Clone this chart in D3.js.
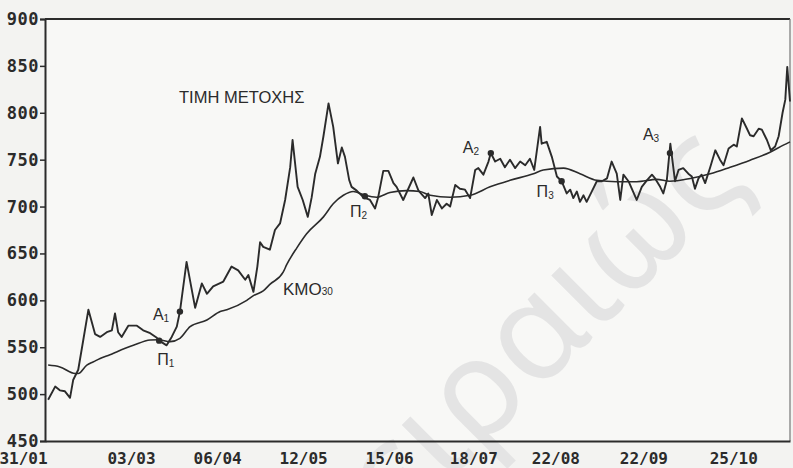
<!DOCTYPE html>
<html><head><meta charset="utf-8">
<script src="https://cdn.jsdelivr.net/npm/d3@7"></script>
<style>body{margin:0;background:#f4f4f2;} svg{display:block}</style>
</head><body>
<svg id="c" width="793" height="468"></svg>
<script>
// ---- data (trading-day index, price) ----
const priceDays = [0.8,2.6,3.8,5.1,6.4,7.2,8.5,9.8,11.1,12.8,14.1,15.8,17.1,17.9,18.7,19.6,21.3,23.5,25.1,26.9,28.6,29.2,31.1,32.4,33.7,34.5,36.2,38.4,40.1,41.4,43,45.6,47.7,49.4,51.2,52,53.3,54.3,55,55.8,57.5,58.8,60.1,61.4,62.7,63.3,64.6,65.9,67.2,68.2,69.1,70.3,71.2,72.5,73.7,74.9,75.9,76.7,77.8,78.4,79.7,81.4,83.1,84.4,85.2,86.5,87.8,89.1,89.9,91.6,94.2,95.5,97.2,98,98.9,100.2,101.5,102.7,103.6,104.9,106.1,107.4,108.7,110,110.8,112.1,113.4,114,115.1,116.4,117.6,118.9,120.2,121.5,122.8,124,125.1,126.6,127,128.3,129.6,130.9,132.1,133.4,134.3,135.1,136,136.8,137.7,138.5,139.8,141.1,142.4,143.7,144.9,146.2,147.1,147.9,149.2,151.3,152.6,153.9,155.2,156,157.3,158.1,159,159.9,161.1,162,163.2,164.5,165.4,166.2,167.1,167.9,168.8,170.1,171.4,172.6,173.5,174.8,176.1,176.9,178.2,179.5,180.3,181.2,182.5,183.3,184.6,185.6,186.7,187.6,188.6,189.3,189.8,190.5];
const priceValues = [494,508,504,503,496,515,526,558,590,564,561,566,568,586,566,561,573,573,568,565,560,557,552,561,572,588,641,592,618,607,615,620,636,632,622,627,609,636,662,657,654,675,682,707,742,771,721,707,689,710,735,753,775,810,785,746,763,753,728,721,717,710,707,698,710,738,738,725,721,707,731,717,709,714,691,707,698,703,700,723,719,718,709,739,741,734,748,757,748,751,742,750,741,748,744,751,739,785,767,769,753,732,727,714,718,709,716,705,712,705,716,727,727,730,748,735,707,734,727,707,721,728,734,730,721,714,728,767,727,739,741,735,732,719,730,734,725,742,760,750,744,762,766,764,794,783,776,775,783,782,771,760,764,775,800,814,849,812];
const maDays = [0.8,3.8,7.7,8.5,10.7,12.4,14.1,16.6,18.3,22.6,26.9,29,32,34.5,37.1,41.4,44.8,46.5,51.6,53.3,55.8,57.5,60.9,61.8,64.4,66.9,71.2,73.7,76.3,78.8,81.8,84.8,88.2,92.5,95.9,98.5,103.6,108.7,113.8,118.9,124.9,127.4,132.6,136.8,141.1,146.2,151.3,156.4,159.8,165,170.1,175.2,180.3,185.4,188.8,190.5];
const maValues = [531,529,522,522,531,534.5,538,542,545,552,557.7,558,556,559.5,572,579,588,590,600,605,610,617,630,638,656,671,689,703,712,716,712,710,715,717,716,712,710,712,721,728,735,739,741,735,728,726.5,726.5,729,727,730,735,742,749.5,758,765.5,769];
const yTicks = [450,500,550,600,650,700,750,800,850,900];
const xTickLabels = ["31/01","03/03","06/04","12/05","15/06","18/07","22/08","22/09","25/10"];
const xTickDays = [0,22,44,66,88,109.5,130.5,153,176];
const signalLetters = ["A","Π","Π","A","Π","A"];
const signalIndex = ["1","1","2","2","3","3"];
const signalDays = [34.5,29.2,81.8,114,132.1,159.8];
const signalValues = [588,557,711,757,727,757];
const priceLabel = "ΤΙΜΗ ΜΕΤΟΧΗΣ";
const maLabel = ["ΚΜΟ","30"];
const watermark = "Πειραιώς";

// ---- layout ----
const svg = d3.select("#c");
const L = 45, R = 790, T = 19, B = 441;
const x = d3.scaleLinear().domain([0, 190.5]).range([L, R]);
const y = d3.scaleLinear().domain([450, 900]).range([B, T]);
const ink = "#2b2b2b";

svg.append("rect").attr("width",793).attr("height",468).attr("fill","#f3f3f1");
svg.append("rect").attr("x",L).attr("y",T).attr("width",R-L).attr("height",B-T).attr("fill","#f8f8f6");

// watermark
svg.append("text").text(watermark)
  .attr("transform","translate(330,600) rotate(-45)")
  .attr("font-family","Noto Sans, Open Sans, sans-serif")
  .attr("font-size",136).attr("fill","#e4e4e4");

// frame
svg.append("line").attr("x1",L).attr("x2",R).attr("y1",T).attr("y2",T).attr("stroke",ink).attr("stroke-width",2);
svg.append("line").attr("x1",R).attr("x2",R).attr("y1",T).attr("y2",B).attr("stroke","#777").attr("stroke-width",1.2);

// y axis
const yAxis = d3.axisLeft(y).tickValues(yTicks).tickSize(5).tickPadding(1).tickFormat(d3.format("d"));
const gy = svg.append("g").attr("transform",`translate(${L},0)`).call(yAxis);
gy.select(".domain").attr("stroke",ink).attr("stroke-width",2);
gy.selectAll(".tick line").attr("stroke",ink).attr("stroke-width",1.5);
gy.selectAll(".tick text").attr("fill",ink)
  .attr("font-family","DejaVu Sans Mono, monospace").attr("font-weight","bold")
  .attr("font-size",17).attr("letter-spacing",0.5);

// x axis
const xAxis = d3.axisBottom(x).tickValues(xTickDays).tickSize(0).tickPadding(11)
  .tickFormat((d,i)=>xTickLabels[i]);
const gx = svg.append("g").attr("transform",`translate(0,${B})`).call(xAxis);
gx.select(".domain").attr("stroke",ink).attr("stroke-width",2);
gx.selectAll(".tick text").attr("fill",ink)
  .attr("font-family","DejaVu Sans Mono, monospace").attr("font-weight","bold")
  .attr("font-size",16).attr("dy","0.72em");
gx.selectAll(".tick").filter((d,i)=>i===0).select("text").attr("dx",-22);

// lines
svg.append("path").datum(d3.zip(maDays, maValues))
  .attr("d", d3.line().x(d=>x(d[0])).y(d=>y(d[1])).curve(d3.curveMonotoneX))
  .attr("fill","none").attr("stroke",ink).attr("stroke-width",1.6);
svg.append("path").datum(d3.zip(priceDays, priceValues))
  .attr("d", d3.line().x(d=>x(d[0])).y(d=>y(d[1])))
  .attr("fill","none").attr("stroke",ink).attr("stroke-width",1.9).attr("stroke-linejoin","round");

// signal dots and labels
const offs = [[-27,8],[-2,24],[-15,21],[-28,0],[-25,16],[-27,-13]];
signalDays.forEach((d,i)=>{
  svg.append("circle").attr("cx",x(d)).attr("cy",y(signalValues[i])).attr("r",3.2).attr("fill",ink);
  const t = svg.append("text").attr("x",x(d)+offs[i][0]).attr("y",y(signalValues[i])+offs[i][1])
    .attr("font-family","Liberation Sans, Arial, sans-serif").attr("font-size",16).attr("fill",ink);
  t.append("tspan").text(signalLetters[i]);
  t.append("tspan").text(signalIndex[i]).attr("font-size",10).attr("dy",2);
});

svg.append("text").text(priceLabel).attr("x",179).attr("y",103)
  .attr("font-family","Liberation Sans, Arial, sans-serif").attr("font-size",16.5).attr("fill",ink);
const km = svg.append("text").attr("x",283).attr("y",295)
  .attr("font-family","Liberation Sans, Arial, sans-serif").attr("font-size",17).attr("fill",ink);
km.append("tspan").text(maLabel[0]);
km.append("tspan").text(maLabel[1]).attr("font-size",10).attr("dy",0);
</script>
</body></html>
